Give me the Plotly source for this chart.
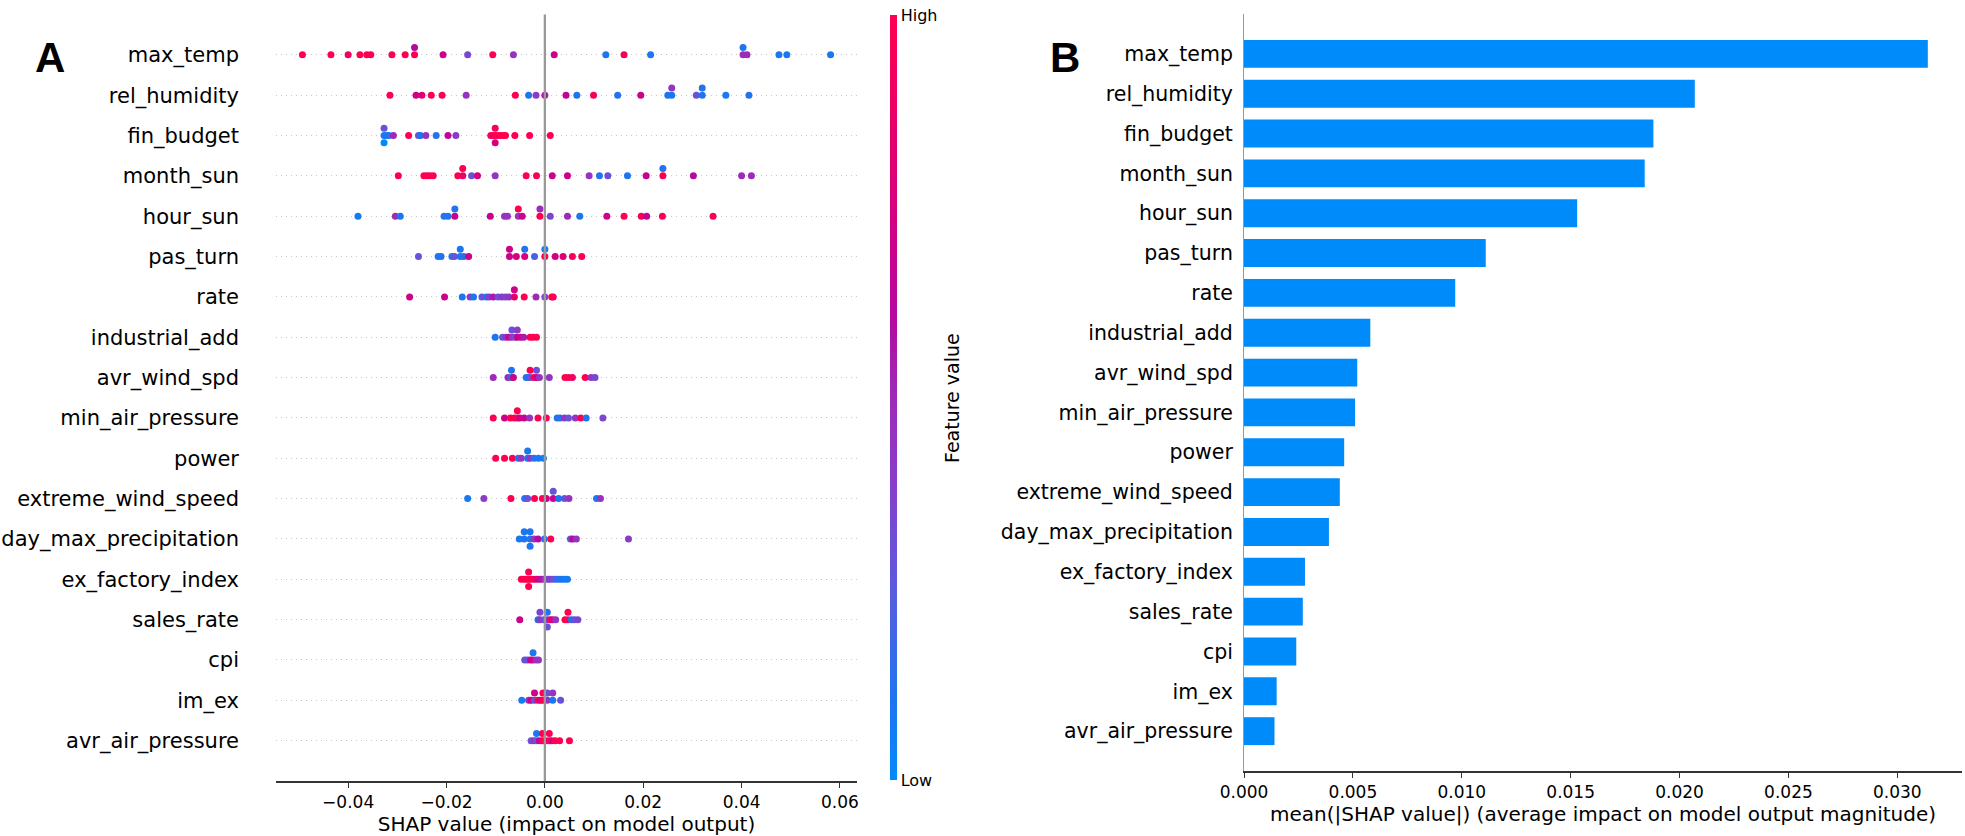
import numpy as np
import plotly.graph_objects as go

# ---------------- data ----------------
features = ["max_temp", "rel_humidity", "fin_budget", "month_sun", "hour_sun", "pas_turn",
            "rate", "industrial_add", "avr_wind_spd", "min_air_pressure", "power",
            "extreme_wind_speed", "day_max_precipitation", "ex_factory_index", "sales_rate",
            "cpi", "im_ex", "avr_air_pressure"]

# SHAP values (x) and normalised feature values (colour, 0 = Low, 1 = High) per feature
max_temp_shap = [-0.0493, -0.0435, -0.0400, -0.0376, -0.0362, -0.0354, -0.0311, -0.0284, -0.0265, -0.0265,
                 -0.0207, -0.0157, -0.0106, -0.0064, 0.0019, 0.0124, 0.0161, 0.0215, 0.0403, 0.0403,
                 0.0411, 0.0476, 0.0492, 0.0581]
max_temp_feat = [1.0, 1.0, 0.9, 1.0, 1.0, 1.0, 1.0, 1.0, 1.0, 0.6,
                 0.7, 0.35, 1.0, 0.45, 0.7, 0.1, 0.95, 0.1, 0.5, 0.1,
                 0.5, 0.1, 0.1, 0.1]

rel_humidity_shap = [-0.0315, -0.0262, -0.0250, -0.0231, -0.0209, -0.0160, -0.0060, -0.0033, -0.0018, 0.0000,
                     0.0043, 0.0065, 0.0099, 0.0148, 0.0195, 0.0250, 0.0258, 0.0258, 0.0308, 0.0320,
                     0.0320, 0.0368, 0.0415]
rel_humidity_feat = [1.0, 0.7, 0.85, 1.0, 1.0, 0.45, 1.0, 0.1, 0.4, 0.55,
                     0.65, 0.1, 0.95, 0.12, 0.7, 0.1, 0.1, 0.45, 0.28, 0.1,
                     0.12, 0.08, 0.12]

fin_budget_shap = [-0.0327, -0.0327, -0.0327, -0.0322, -0.0317, -0.0308, -0.0277, -0.0257, -0.0253, -0.0242,
                   -0.0221, -0.0197, -0.0181, -0.0110, -0.0104, -0.0101, -0.0101, -0.0101, -0.0095, -0.0091,
                   -0.0085, -0.0080, -0.0061, -0.0031, 0.0011]
fin_budget_feat = [0.1, 0.3, 0.0, 0.1, 0.1, 0.5, 1.0, 0.3, 0.1, 0.45,
                   0.12, 0.65, 0.4, 1.0, 0.8, 1.0, 0.95, 0.75, 1.0, 1.0,
                   1.0, 1.0, 1.0, 1.0, 1.0]

month_sun_shap = [-0.0298, -0.0246, -0.0240, -0.0234, -0.0227, -0.0177, -0.0167, -0.0167, -0.0149, -0.0137,
                  -0.0101, -0.0038, -0.0017, 0.0015, 0.0046, 0.0090, 0.0111, 0.0128, 0.0168, 0.0206,
                  0.0240, 0.0240, 0.0302, 0.0400, 0.0420]
month_sun_feat = [1.0, 1.0, 1.0, 1.0, 1.0, 1.0, 0.9, 1.0, 0.3, 0.75,
                  0.45, 1.0, 1.0, 0.7, 0.7, 0.45, 0.12, 0.32, 0.1, 0.7,
                  1.0, 0.12, 0.6, 0.5, 0.5]

hour_sun_shap = [-0.0380, -0.0304, -0.0294, -0.0205, -0.0197, -0.0183, -0.0183, -0.0111, -0.0082, -0.0076,
                 -0.0054, -0.0054, -0.0046, -0.0010, -0.0010, 0.0011, 0.0046, 0.0071, 0.0126, 0.0161,
                 0.0196, 0.0207, 0.0239, 0.0342]
hour_sun_feat = [0.08, 0.5, 0.1, 0.12, 0.12, 0.7, 0.12, 0.7, 0.45, 0.45,
                 0.45, 1.0, 0.7, 1.0, 0.5, 0.35, 0.5, 0.1, 0.7, 1.0,
                 0.95, 0.65, 1.0, 1.0]

pas_turn_shap = [-0.0257, -0.0217, -0.0211, -0.0189, -0.0184, -0.0172, -0.0172, -0.0165, -0.0155, -0.0072,
                 -0.0072, -0.0058, -0.0041, -0.0041, -0.0021, 0.0000, 0.0000, 0.0021, 0.0037, 0.0056,
                 0.0075]
pas_turn_feat = [0.3, 0.1, 0.12, 0.12, 0.3, 0.1, 0.1, 0.12, 0.7, 0.7,
                 0.7, 0.75, 0.75, 0.1, 0.2, 1.0, 0.08, 0.75, 0.8, 0.95,
                 1.0]

rate_shap = [-0.0275, -0.0204, -0.0168, -0.0152, -0.0145, -0.0128, -0.0119, -0.0113, -0.0105, -0.0095,
             -0.0087, -0.0080, -0.0073, -0.0062, -0.0062, -0.0042, -0.0018, 0.0000, 0.0014, 0.0017]
rate_feat = [0.7, 0.7, 0.1, 0.45, 0.1, 0.3, 0.1, 0.4, 0.55, 0.3,
             0.45, 0.35, 0.45, 0.85, 0.7, 1.0, 0.5, 0.35, 1.0, 1.0]

industrial_add_shap = [-0.0101, -0.0086, -0.0079, -0.0073, -0.0067, -0.0067, -0.0060, -0.0056, -0.0056, -0.0049,
                       -0.0043, -0.0030, -0.0024, -0.0017]
industrial_add_feat = [0.1, 0.3, 0.45, 0.7, 0.45, 0.3, 0.3, 0.7, 0.4, 0.7,
                       0.55, 1.0, 1.0, 1.0]

avr_wind_spd_shap = [-0.0105, -0.0075, -0.0068, -0.0068, -0.0064, -0.0038, -0.0033, -0.0030, -0.0030, -0.0022,
                     -0.0017, -0.0017, -0.0011, 0.0009, 0.0041, 0.0048, 0.0056, 0.0082, 0.0094, 0.0102]
avr_wind_spd_feat = [0.5, 0.5, 0.1, 0.1, 0.7, 0.12, 0.12, 0.3, 1.0, 1.0,
                     0.7, 0.3, 0.45, 0.45, 1.0, 1.0, 0.9, 1.0, 0.45, 0.35]

min_air_pressure_shap = [-0.0105, -0.0082, -0.0070, -0.0062, -0.0056, -0.0056, -0.0051, -0.0042, -0.0031, -0.0014,
                         0.0003, 0.0025, 0.0031, 0.0040, 0.0048, 0.0062, 0.0073, 0.0084, 0.0118]
min_air_pressure_feat = [1.0, 0.7, 1.0, 1.0, 1.0, 1.0, 0.7, 0.7, 0.45, 1.0,
                         1.0, 0.12, 0.12, 0.45, 0.3, 0.45, 1.0, 0.1, 0.35]

power_shap = [-0.0100, -0.0082, -0.0066, -0.0054, -0.0048, -0.0035, -0.0035, -0.0030, -0.0022, -0.0013, -0.0003]
power_feat = [1.0, 1.0, 1.0, 0.1, 0.45, 0.12, 0.1, 0.45, 0.12, 0.1, 0.08]

extreme_wind_speed_shap = [-0.0157, -0.0124, -0.0069, -0.0041, -0.0035, -0.0021, -0.0005, 0.0003, 0.0017, 0.0017,
                           0.0028, 0.0040, 0.0049, 0.0105, 0.0113]
extreme_wind_speed_feat = [0.08, 0.4, 1.0, 0.12, 0.3, 1.0, 1.0, 0.7, 0.7, 0.3,
                           0.1, 0.3, 0.45, 0.08, 0.45]

day_max_precipitation_shap = [-0.0052, -0.0042, -0.0042, -0.0030, -0.0030, -0.0030, -0.0022, -0.0014, -0.0001, 0.0012,
                              0.0052, 0.0057, 0.0064, 0.0170]
day_max_precipitation_feat = [0.1, 0.1, 0.1, 0.12, 0.1, 0.1, 0.45, 0.6, 0.12, 1.0,
                              0.3, 0.6, 0.45, 0.4]

ex_factory_index_shap = [-0.0048, -0.0042, -0.0037, -0.0033, -0.0033, -0.0033, -0.0028, -0.0022, -0.0017, -0.0011,
                         -0.0006, 0.0000, 0.0006, 0.0011, 0.0017, 0.0023, 0.0029, 0.0034, 0.0040, 0.0046]
ex_factory_index_feat = [1.0, 1.0, 1.0, 1.0, 1.0, 1.0, 1.0, 0.95, 0.8, 0.7,
                         0.55, 0.45, 0.35, 0.4, 0.3, 0.2, 0.12, 0.1, 0.08, 0.08]

sales_rate_shap = [-0.0051, -0.0014, -0.0010, -0.0010, -0.0002, 0.0005, 0.0005, 0.0005, 0.0011, 0.0016,
                   0.0022, 0.0041, 0.0047, 0.0047, 0.0054, 0.0060, 0.0067]
sales_rate_feat = [0.7, 0.1, 0.45, 0.35, 0.3, 0.35, 0.12, 0.3, 1.0, 0.75,
                   0.45, 1.0, 1.0, 1.0, 0.1, 0.3, 0.35]

cpi_shap = [-0.0041, -0.0035, -0.0029, -0.0024, -0.0024, -0.0018, -0.0013]
cpi_feat = [0.3, 0.3, 0.7, 0.7, 0.1, 0.45, 0.45]

im_ex_shap = [-0.0047, -0.0033, -0.0028, -0.0021, -0.0021, -0.0014, -0.0009, -0.0004, -0.0004, 0.0005,
              0.0005, 0.0016, 0.0016, 0.0032]
im_ex_feat = [0.08, 0.45, 0.7, 0.3, 0.7, 1.0, 0.7, 1.0, 1.0, 0.45,
              0.3, 0.1, 0.45, 0.3]

avr_air_pressure_shap = [-0.0028, -0.0022, -0.0017, -0.0017, -0.0011, -0.0005, -0.0005, 0.0002, 0.0009, 0.0009,
                         0.0014, 0.0021, 0.0030, 0.0050]
avr_air_pressure_feat = [0.3, 0.45, 0.3, 0.1, 0.7, 1.0, 1.0, 1.0, 1.0, 1.0,
                         0.7, 1.0, 1.0, 1.0]

# mean(|SHAP value|) per feature, same order as `features`
mean_abs_shap = [0.0314, 0.0207, 0.0188, 0.0184, 0.0153, 0.0111, 0.0097, 0.0058, 0.0052, 0.0051,
                 0.0046, 0.0044, 0.0039, 0.0028, 0.0027, 0.0024, 0.0015, 0.0014]

ticks_a = [-0.04, -0.02, 0.00, 0.02, 0.04, 0.06]
ticks_b = [0.000, 0.005, 0.010, 0.015, 0.020, 0.025, 0.030]

# ---------------- helpers ----------------
rows = [
    (max_temp_shap, max_temp_feat), (rel_humidity_shap, rel_humidity_feat),
    (fin_budget_shap, fin_budget_feat), (month_sun_shap, month_sun_feat),
    (hour_sun_shap, hour_sun_feat), (pas_turn_shap, pas_turn_feat),
    (rate_shap, rate_feat), (industrial_add_shap, industrial_add_feat),
    (avr_wind_spd_shap, avr_wind_spd_feat), (min_air_pressure_shap, min_air_pressure_feat),
    (power_shap, power_feat), (extreme_wind_speed_shap, extreme_wind_speed_feat),
    (day_max_precipitation_shap, day_max_precipitation_feat),
    (ex_factory_index_shap, ex_factory_index_feat), (sales_rate_shap, sales_rate_feat),
    (cpi_shap, cpi_feat), (im_ex_shap, im_ex_feat), (avr_air_pressure_shap, avr_air_pressure_feat),
]


def swarm_offsets(vals, nbins=100, row_height=0.4):
    """Beeswarm offsets as in shap.summary_plot (deterministic ordering)."""
    v = np.asarray(vals, dtype=float)
    quant = np.round(nbins * (v - v.min()) / (v.max() - v.min() + 1e-8))
    inds = np.argsort(quant, kind="stable")
    layer, last_bin = 0, -1
    ys = np.zeros(len(v))
    for ind in inds:
        if quant[ind] != last_bin:
            layer = 0
        ys[ind] = np.ceil(layer / 2) * ((layer % 2) * 2 - 1)
        layer += 1
        last_bin = quant[ind]
    ys *= 0.9 * (row_height / np.max(ys + 1))
    return ys


shap_red_blue = [
    [0.00, "#008bfb"], [0.10, "#1c76ef"], [0.25, "#5a5be0"], [0.40, "#8a3cc8"],
    [0.50, "#9e2bb8"], [0.60, "#b40aa0"], [0.75, "#d6007f"], [0.90, "#ee0064"],
    [1.00, "#ff0051"],
]

N = len(features)
positions = [N - 1 - i for i in range(N)]
FONT = "DejaVu Sans"

fig = go.Figure()

for pos, (sv, fv) in zip(positions, rows):
    offs = swarm_offsets(sv)
    fig.add_trace(go.Scatter(
        x=sv, y=pos + offs, mode="markers",
        marker=dict(size=7, color=fv, coloraxis="coloraxis", line=dict(width=0), opacity=1),
        xaxis="x", yaxis="y", showlegend=False, hoverinfo="skip",
    ))

fig.add_trace(go.Bar(
    x=mean_abs_shap, y=positions, orientation="h", width=0.7,
    marker=dict(color="#008bfb", line=dict(width=0)),
    xaxis="x2", yaxis="y2", showlegend=False, hoverinfo="skip",
))

all_vals = np.concatenate([np.asarray(r[0]) for r in rows])
span = all_vals.max() - all_vals.min()
range_a = [all_vals.min() - 0.05 * span, all_vals.max() + 0.05 * span]
range_b = [0, 1.05 * max(mean_abs_shap)]

W, H = 1965, 836

fig.update_layout(
    width=W, height=H, margin=dict(l=0, r=0, t=0, b=0),
    paper_bgcolor="white", plot_bgcolor="white",
    font=dict(family=FONT, color="black"),
    xaxis=dict(
        domain=[276 / W, 857 / W], range=range_a, anchor="y",
        tickvals=ticks_a, tickformat=".2f", ticks="outside", ticklen=5, tickwidth=1,
        tickcolor="#333333", showline=True, linecolor="#333333", linewidth=1.5,
        showgrid=False, zeroline=False, tickfont=dict(size=17, color="black"),
        title=dict(text="SHAP value (impact on model output)", font=dict(size=20), standoff=9),
        automargin=False, fixedrange=True,
    ),
    yaxis=dict(
        domain=[(H - 781) / H, (H - 14.5) / H], range=[-1, N], anchor="x",
        tickvals=positions, ticktext=features, ticks="", showline=False,
        showgrid=True, gridcolor="#c8c8c8", gridwidth=1, griddash="1px,4px",
        zeroline=False, ticklabelstandoff=36, tickfont=dict(size=21, color="black"),
        automargin=False, fixedrange=True,
    ),
    xaxis2=dict(
        domain=[1244 / W, 1962 / W], range=range_b, anchor="y2",
        tickvals=ticks_b, tickformat=".3f", ticks="outside", ticklen=5, tickwidth=1,
        tickcolor="#333333", showline=True, linecolor="#333333", linewidth=1.5,
        showgrid=False, zeroline=False, tickfont=dict(size=17, color="black"),
        title=dict(text="mean(|SHAP value|) (average impact on model output magnitude)",
                   font=dict(size=20), standoff=6),
        automargin=False, fixedrange=True,
    ),
    yaxis2=dict(
        domain=[(H - 771) / H, (H - 14) / H], range=[-1, N], anchor="x2",
        tickvals=positions, ticktext=features, ticks="", showline=True,
        linecolor="#999999", linewidth=1, showgrid=False, zeroline=False,
        ticklabelstandoff=6, tickfont=dict(size=20.5, color="black"),
        automargin=False, fixedrange=True,
    ),
    coloraxis=dict(
        colorscale=shap_red_blue, cmin=0, cmax=1,
        colorbar=dict(
            x=890 / W, xanchor="left", y=(H - 780) / H, yanchor="bottom",
            len=(780 - 15) / H, lenmode="fraction", thickness=7, thicknessmode="pixels",
            xpad=0, ypad=0, outlinewidth=0,
            tickvals=[0, 1], ticktext=["Low", "High"], ticks="",
            tickfont=dict(size=16, color="black"),
        ),
    ),
    shapes=[dict(
        type="line", xref="x", yref="y domain", x0=0, x1=0, y0=0, y1=1,
        line=dict(color="#999999", width=2.3), layer="above",
    )],
    annotations=[
        dict(text="<b>A</b>", x=50 / W, y=(H - 57) / H, xref="paper", yref="paper",
             showarrow=False, font=dict(family="Liberation Sans", size=42, color="black"),
             xanchor="center", yanchor="middle"),
        dict(text="<b>B</b>", x=1065 / W, y=(H - 57) / H, xref="paper", yref="paper",
             showarrow=False, font=dict(family="Liberation Sans", size=42, color="black"),
             xanchor="center", yanchor="middle"),
        dict(text="Feature value", x=952 / W, y=(H - 398) / H, xref="paper", yref="paper",
             textangle=-90, showarrow=False, font=dict(family=FONT, size=19, color="black"),
             xanchor="center", yanchor="middle"),
    ],
)

fig.write_html(
    "out.html",
    config={"displayModeBar": False},
    post_script="document.body.style.margin='0';document.body.style.overflow='hidden';",
)
